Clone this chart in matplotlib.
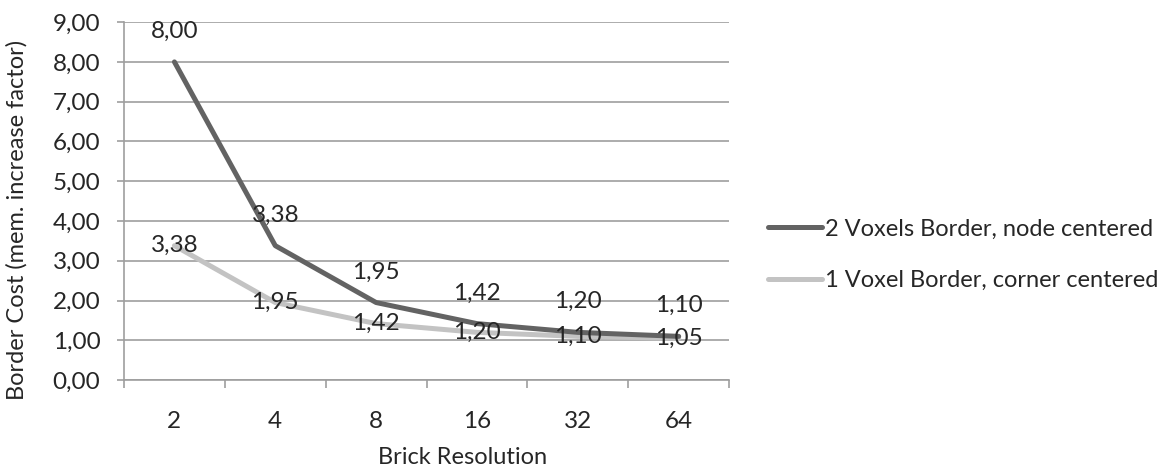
import matplotlib.pyplot as plt
from matplotlib.ticker import FixedLocator

# data
resolutions = ["2", "4", "8", "16", "32", "64"]
node_centered = [8.00, 3.38, 1.95, 1.42, 1.20, 1.10]
corner_centered = [3.38, 1.95, 1.42, 1.20, 1.10, 1.05]
series_names = ["2 Voxels Border, node centered", "1 Voxel Border, corner centered"]

plt.rcParams['font.family'] = ['Lato', 'DejaVu Sans']
txt = "#262626"
grid_c = "#9e9e9e"
fs = 17.5

fig = plt.figure(figsize=(11.61, 4.71), dpi=100)
ax = fig.add_axes([0.1068, 0.193, 0.628 - 0.1068, 0.953 - 0.193])

x = list(range(len(resolutions)))
ax.plot(x, node_centered, color="#636363", lw=3.6, solid_capstyle="round",
        solid_joinstyle="round", label=series_names[0], zorder=3)
ax.plot(x, corner_centered, color="#c3c3c3", lw=3.6, solid_capstyle="round",
        solid_joinstyle="round", label=series_names[1], zorder=2)

# data labels: dark above the point, light centered on it
for xi, v in zip(x, node_centered):
    ax.annotate(f"{v:.2f}".replace(".", ","), (xi, v), xytext=(0, 22),
                textcoords="offset points", ha="center", va="center",
                fontsize=fs, color=txt, zorder=5)
for xi, v in zip(x, corner_centered):
    ax.annotate(f"{v:.2f}".replace(".", ","), (xi, v), xytext=(0, 0),
                textcoords="offset points", ha="center", va="center",
                fontsize=fs, color=txt, zorder=5)

ax.set_xlim(-0.5, len(resolutions) - 0.5)
ax.set_ylim(0, 9)
ax.set_yticks(range(0, 10))
ax.set_yticklabels([f"{v:.2f}".replace(".", ",") for v in range(0, 10)])
ax.set_xticks(x)
ax.set_xticklabels(resolutions)
ax.xaxis.set_minor_locator(FixedLocator([i - 0.5 for i in range(len(resolutions) + 1)]))

ax.grid(axis="y", color=grid_c, lw=1.2, zorder=0)
for s in ["top", "right"]:
    ax.spines[s].set_visible(False)
for s in ["left", "bottom"]:
    ax.spines[s].set_color(grid_c)
    ax.spines[s].set_linewidth(1.2)

ax.tick_params(axis="y", length=5, width=1.2, color=grid_c, pad=12,
               labelsize=fs, labelcolor=txt)
ax.tick_params(axis="x", which="major", length=0, pad=22,
               labelsize=fs, labelcolor=txt)
ax.tick_params(axis="x", which="minor", length=6, width=1.2, color=grid_c)

ax.set_xlabel("Brick Resolution", fontsize=17, color=txt)
ax.set_ylabel("Border Cost (mem. increase factor)", fontsize=17, color=txt)
ax.xaxis.set_label_coords(0.559, -0.187)
ax.yaxis.set_label_coords(-0.159, 0.447)

leg = ax.legend(loc="center left", bbox_to_anchor=(0.653, 0.459),
                bbox_transform=fig.transFigure, borderaxespad=0, frameon=False,
                fontsize=17, handlelength=2.3, handletextpad=0.15,
                labelspacing=1.3, labelcolor=txt)

fig.savefig("out.png", dpi=100)
